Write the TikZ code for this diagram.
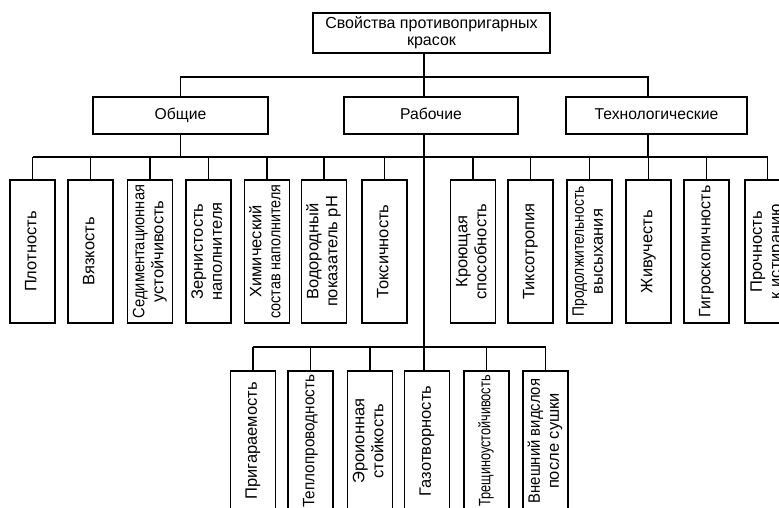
\documentclass[tikz,border=0pt]{standalone}
\usepackage{fontspec}
\setmainfont{Liberation Sans}
\usepackage{graphicx}
% vertical (rotated) label, lines separated by \\
\newcommand\vlab[1]{\rotatebox{90}{\begin{tabular}{@{}c@{}}#1\end{tabular}}}
% squeeze a line horizontally
\newcommand\sq[2]{\scalebox{#1}[1]{#2}}
\begin{document}
\begin{tikzpicture}[x=1pt,y=-1pt,
  box/.style={draw, line width=1.8pt, inner sep=0pt},
  head/.style={box, font=\fontsize{15.7}{17}\selectfont,
    text height=11.5pt, text depth=3.5pt},
  leaf/.style={box, minimum width=45pt, minimum height=143pt,
    font=\fontsize{16.5}{19}\selectfont},
  sub/.style={box, minimum width=45pt, minimum height=140pt,
    font=\fontsize{16.5}{19}\selectfont},
  conn/.style={line width=1.8pt}]
\clip (0,0) rectangle (779,508);
\fill[white] (0,0) rectangle (779,508);

% root
\node[box, minimum width=237pt, minimum height=40pt, align=center,
  font=\fontsize{16}{17}\selectfont] (root) at (431.5,33)
  {Свойства противопригарных\\красок};

% groups
\node[head, minimum width=175pt, minimum height=37pt] (gen) at (180.5,115.5) {Общие};
\node[head, minimum width=174pt, minimum height=37pt] (rab) at (431,115.5) {Рабочие};
\node[head, minimum width=181pt, minimum height=37pt] (tech) at (656.5,115.5) {Технологические};

% properties, first row
\node[leaf] (l1) at (32.5,251.5) {\vlab{Плотность}};
\node[leaf] (l2) at (90.5,251.5) {\vlab{Вязкость}};
\node[leaf] (l3) at (150,251.5) {\vlab{\sq{0.89}{Седиментационная}\\устойчивость}};
\node[leaf] (l4) at (208.5,251.5) {\vlab{Зернистость\\наполнителя}};
\node[leaf] (l5) at (267,251.5) {\vlab{Химический\\\sq{0.87}{состав наполнителя}}};
\node[leaf] (l6) at (324,251.5) {\vlab{Водородный\\показатель pH}};
\node[leaf] (l7) at (384.5,251.5) {\vlab{Токсичность}};
\node[leaf] (l8) at (473,251.5) {\vlab{Кроющая\\способность}};
\node[leaf] (l9) at (530.5,251.5) {\vlab{Тиксотропия}};
\node[leaf] (l10) at (589.5,251.5) {\vlab{\sq{0.84}{Продолжительность}\\высыхания}};
\node[leaf] (l11) at (648.5,251.5) {\vlab{Живучесть}};
\node[leaf] (l12) at (706.5,251.5) {\vlab{\sq{0.97}{Гигроскопичность}}};
\node[leaf] (l13) at (767.5,251.5) {\vlab{Прочность\\к истиранию}};

% properties, second row
\node[sub] (m1) at (253,441) {\vlab{Пригараемость}};
\node[sub] (m2) at (310.5,441) {\vlab{\sq{0.93}{Теплопроводность}}};
\node[sub] (m3) at (370,441) {\vlab{Эроионная\\стойкость}};
\node[sub] (m4) at (427,441) {\vlab{Газотворность}};
\node[sub] (m5) at (486.5,441) {\vlab{\sq{0.77}{Трещиноустойчивость}}};
\node[sub] (m6) at (545.5,441) {\vlab{\sq{0.9}{Внешний видслоя}\\после сушки}};

% bus lines and trunk positions
\coordinate (tk) at (424,0);
\coordinate (tx) at (648,0);
\coordinate (b1) at (0,77);
\coordinate (b2) at (0,157);
\coordinate (b3) at (0,347);

% root to groups
\draw[conn] (root.south -| tk) -- (tk |- b1);
\draw[conn] (gen.north) -- (gen.north |- b1) -- (tx |- b1) -- (tx |- tech.north);
\draw[conn] (tk |- b1) -- (tk |- rab.north);

% groups to first row
\draw[conn] (l1.north |- b2) -- (l13.north |- b2);
\draw[conn] (gen.south) -- (gen.south |- b2);
\draw[conn] (tx |- tech.south) -- (tx |- b2);
\foreach \n in {l1,l2,l3,l4,l5,l6,l7,l8,l9,l10,l11,l12,l13}
  \draw[conn] (\n.north) -- (\n.north |- b2);

% trunk to second row
\draw[conn] (tk |- rab.south) -- (tk |- m4.north);
\draw[conn] (m1.north |- b3) -- (m6.north |- b3);
\foreach \n in {m1,m2,m3,m5,m6}
  \draw[conn] (\n.north) -- (\n.north |- b3);
\end{tikzpicture}
\end{document}
